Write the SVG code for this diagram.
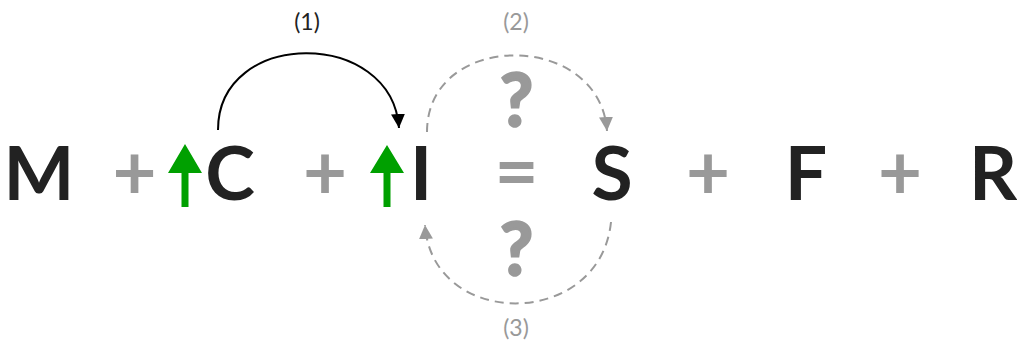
<svg xmlns="http://www.w3.org/2000/svg" width="1017" height="343" viewBox="0 0 1017 343">
<style>
.big{font-family:Lato,"Noto Sans",sans-serif;font-weight:700;font-size:75px;fill:#222;text-anchor:middle}
.op{font-family:Lato,"Noto Sans",sans-serif;font-weight:700;font-size:76px;fill:#999;text-anchor:middle}
.q{font-family:Lato,"Noto Sans",sans-serif;font-weight:700;font-size:72px;fill:#999;stroke:#999;stroke-width:2.5;text-anchor:middle}
.lbl{font-family:Lato,"Noto Sans",sans-serif;font-size:23px;text-anchor:middle}
.up{fill:#00a000}
.solid{fill:none;stroke:#000;stroke-width:2}
.dash{fill:none;stroke:#999;stroke-width:2;stroke-dasharray:9 6}
</style>
<defs>
<marker id="ab" viewBox="0 0 10 10" refX="10" refY="5" markerWidth="14" markerHeight="14" markerUnits="userSpaceOnUse" orient="auto"><path d="M0,0 L10,5 L0,10 z" fill="#000"/></marker>
<marker id="ag" viewBox="0 0 10 10" refX="10" refY="5" markerWidth="14" markerHeight="14" markerUnits="userSpaceOnUse" orient="auto"><path d="M0,0 L10,5 L0,10 z" fill="#999"/></marker>
</defs>
<g id="M"><text class="big" x="39" y="200">M</text></g>
<g id="plus1"><text class="op" x="134.5" y="199">+</text></g>
<g id="upC"><path class="up" d="M185,144 L202,173 L188.5,173 L188.5,207 L181.5,207 L181.5,173 L168,173 Z"/></g>
<g id="C"><text class="big" x="230" y="200">C</text></g>
<g id="plus2"><text class="op" x="325" y="199">+</text></g>
<g id="upI"><path class="up" d="M387,145 L404,173 L390.5,173 L390.5,207 L383.5,207 L383.5,173 L370,173 Z"/></g>
<g id="I"><text class="big" x="421" y="200">I</text></g>
<g id="eq"><text class="op" x="516.5" y="199">=</text></g>
<g id="S"><text class="big" x="612" y="200">S</text></g>
<g id="plus3"><text class="op" x="708" y="199">+</text></g>
<g id="F"><text class="big" x="806" y="200">F</text></g>
<g id="plus4"><text class="op" x="900" y="199">+</text></g>
<g id="R"><text class="big" x="993" y="200">R</text></g>
<g id="q1"><text class="q" x="516.5" y="126">?</text></g>
<g id="q2"><text class="q" x="516.5" y="275">?</text></g>
<g id="labels">
<text class="lbl" x="307" y="30" fill="#222">(1)</text>
<text class="lbl" x="516" y="30" fill="#999">(2)</text>
<text class="lbl" x="516" y="336" fill="#999">(3)</text>
</g>
<g id="connectors">
<path class="solid" d="M218,130 C218,28 392,28 399,128" marker-end="url(#ab)"/>
<path class="dash" d="M427,132 C427,30 600,30 607,131" marker-end="url(#ag)"/>
<path class="dash" d="M611,222 C600,330 432,330 425,225" marker-end="url(#ag)"/>
</g>
</svg>
